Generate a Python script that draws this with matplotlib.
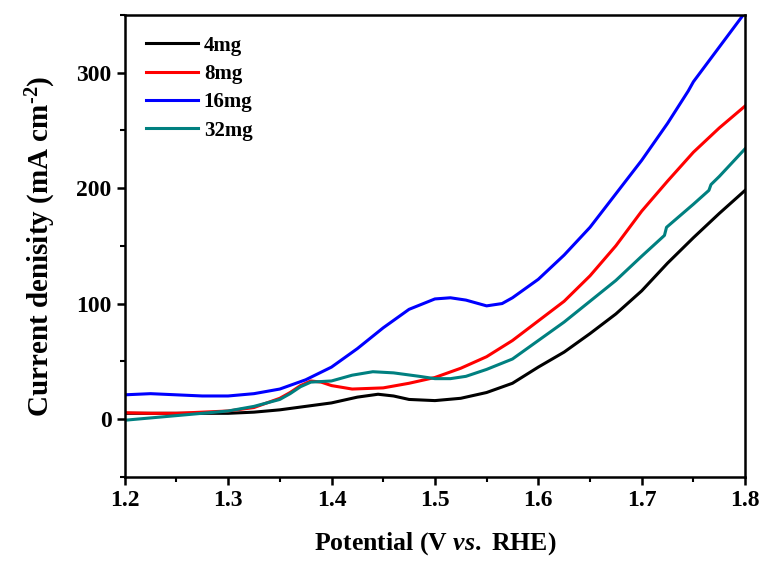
import matplotlib
matplotlib.use("Agg")
import matplotlib.pyplot as plt
from matplotlib.ticker import MultipleLocator

plt.rcParams["font.family"] = ["Liberation Serif", "DejaVu Serif"]
plt.rcParams["font.weight"] = "bold"
plt.rcParams["mathtext.fontset"] = "custom"
plt.rcParams["mathtext.rm"] = "Liberation Serif:bold"
plt.rcParams["mathtext.bf"] = "Liberation Serif:bold"
plt.rcParams["mathtext.it"] = "Liberation Serif:italic:bold"
plt.rcParams["mathtext.bfit"] = "Liberation Serif:italic:bold"

# Potential (V vs. RHE) and current density (mA cm^-2)
v_4mg = [1.200, 1.225, 1.250, 1.275, 1.300, 1.325, 1.350, 1.375, 1.400, 1.425,
         1.445, 1.460, 1.475, 1.500, 1.525, 1.550, 1.575, 1.600, 1.625, 1.650,
         1.675, 1.700, 1.725, 1.750, 1.775, 1.800]
j_4mg = [5, 5, 5, 5, 5, 6, 8, 11, 14, 19,
         21.5, 20, 17, 16, 18, 23, 31, 45, 58, 74,
         91, 111, 135, 157, 178, 198]

v_8mg = [1.200, 1.225, 1.250, 1.275, 1.300, 1.325, 1.350, 1.360, 1.370, 1.380,
         1.390, 1.400, 1.420, 1.450, 1.475, 1.500, 1.525, 1.550, 1.575, 1.600,
         1.625, 1.650, 1.675, 1.700, 1.725, 1.750, 1.775, 1.800]
j_8mg = [5.5, 5, 5, 6, 7, 10, 18, 23, 29, 33,
         32, 29, 26, 27, 31, 36, 44, 54, 68, 85,
         102, 124, 150, 180, 206, 231, 252, 271]

v_16mg = [1.200, 1.225, 1.250, 1.275, 1.300, 1.325, 1.350, 1.375, 1.400, 1.425,
          1.450, 1.475, 1.500, 1.515, 1.530, 1.550, 1.565, 1.575, 1.600, 1.625,
          1.650, 1.675, 1.700, 1.725, 1.745, 1.750, 1.775, 1.800]
j_16mg = [21, 22, 21, 20, 20, 22, 26, 34, 45, 61,
          79, 95, 104, 105, 103, 98, 100, 105, 121, 142,
          166, 195, 224, 256, 284, 292, 322, 352]

v_32mg = [1.200, 1.225, 1.250, 1.275, 1.300, 1.325, 1.350, 1.360, 1.370, 1.380,
          1.400, 1.420, 1.440, 1.460, 1.485, 1.500, 1.515, 1.530, 1.550, 1.575,
          1.600, 1.625, 1.650, 1.675, 1.700, 1.722, 1.724, 1.750, 1.765, 1.767,
          1.775, 1.800]
j_32mg = [-1, 1, 3, 5, 7, 11, 17, 22, 28, 32,
          33, 38, 41, 40, 37, 35, 35, 37, 43, 52,
          68, 84, 102, 120, 141, 159, 166, 186, 198, 203,
          210, 234]

series = [
    ("4mg", v_4mg, j_4mg, "black"),
    ("8mg", v_8mg, j_8mg, "#ff0000"),
    ("16mg", v_16mg, j_16mg, "#0000ff"),
    ("32mg", v_32mg, j_32mg, "#008080"),
]

fig = plt.figure(figsize=(7.65, 5.67), dpi=100)
ax = fig.add_axes([0.163, 0.159, 0.811, 0.815])

for label, v, j, color in series:
    ax.plot(v, j, color=color, lw=2.2, label=label)

ax.set_xlim(1.2, 1.8)
ax.set_ylim(-50, 350)
ax.xaxis.set_major_locator(MultipleLocator(0.1))
ax.xaxis.set_minor_locator(MultipleLocator(0.05))
ax.yaxis.set_major_locator(MultipleLocator(100))
ax.yaxis.set_minor_locator(MultipleLocator(50))

ax.tick_params(which="major", direction="out", length=6, width=1.8, labelsize=17)
ax.tick_params(which="minor", direction="out", length=3.5, width=1.5)
for lab in ax.get_xticklabels() + ax.get_yticklabels():
    lab.set_fontweight("bold")
for sp in ax.spines.values():
    sp.set_linewidth(1.8)

ax.set_xlabel(r"Potential (V $\mathit{vs.}\ $RHE)", fontsize=18.5, fontweight="bold", labelpad=14)
ax.set_ylabel(r"Current denisity (mA cm$^{\text{-2}}$)", fontsize=21, fontweight="bold", labelpad=13)

leg = ax.legend(loc="upper left", frameon=False, handlelength=2.5, handletextpad=0.3,
                prop={"weight": "bold", "size": 15}, labelspacing=0.4,
                borderaxespad=0.6)

fig.savefig("out.png", dpi=100)
